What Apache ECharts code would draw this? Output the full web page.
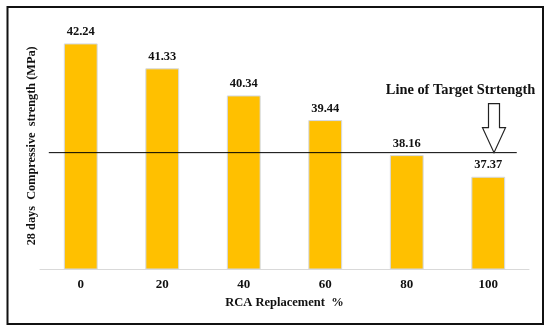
<!DOCTYPE html>
<html>
<head>
<meta charset="utf-8">
<script src="https://cdn.jsdelivr.net/npm/echarts@6/dist/echarts.min.js"></script>
<style>html,body{margin:0;padding:0;background:#fff}#c{width:550px;height:333px}</style>
</head>
<body>
<div id="c"></div>
<script>
const categories = ['0', '20', '40', '60', '80', '100'];
const strength = [42.24, 41.33, 40.34, 39.44, 38.16, 37.37];
const targetStrength = 38.25;
const targetSpan = [0.018, 0.975];
const xAxisTitle = 'RCA Replacement  %';
const yAxisTitle = '28 days  Compressive  strength (MPa)';
const targetText = 'Line of Target Strtength';

const FONT = '"Liberation Serif", "Times New Roman", serif';
const chart = echarts.init(document.getElementById('c'), null, {renderer: 'canvas'});
const option = {
  animation: false,
  backgroundColor: '#fff',
  grid: {left: 40, right: 21, top: 22.6, bottom: 64},
  xAxis: [{
    type: 'category',
    data: categories,
    axisTick: {show: false},
    axisLine: {lineStyle: {color: '#d9d9d9', width: 1}},
    axisLabel: {color: '#111', fontFamily: FONT, fontWeight: 'bold', fontSize: 13, margin: 9},
    name: xAxisTitle,
    nameLocation: 'middle',
    nameGap: 26,
    nameTextStyle: {color: '#111', fontFamily: FONT, fontWeight: 'bold', fontSize: 12.5}
  }, {
    type: 'value', min: 0, max: 1, show: false
  }],
  yAxis: {
    type: 'value', min: 34, max: 43,
    axisLine: {show: false}, axisTick: {show: false}, axisLabel: {show: false}, splitLine: {show: false},
    name: yAxisTitle,
    nameLocation: 'middle',
    nameRotate: 90,
    nameGap: 2,
    nameTextStyle: {color: '#111', fontFamily: FONT, fontWeight: 'bold', fontSize: 12.3}
  },
  series: [{
    type: 'bar',
    data: strength,
    barWidth: '41.5%',
    itemStyle: {color: '#FFC000', borderColor: '#d3d9e6', borderWidth: 1},
    label: {show: true, position: 'top', distance: 5, color: '#111', fontFamily: FONT, fontWeight: 'bold', fontSize: 12.5,
      formatter: p => p.value.toFixed(2)}
  }, {
    type: 'line',
    xAxisIndex: 1,
    data: targetSpan.map(x => [x, targetStrength]),
    symbol: 'none',
    lineStyle: {color: '#000', width: 1},
    z: 5
  }]
};
chart.setOption(option);

const tipY = chart.convertToPixel({yAxisIndex: 0}, targetStrength);
const cx = 494;
chart.setOption({
  graphic: [
    {type: 'rect', shape: {x: 7.5, y: 7, width: 535.5, height: 317}, style: {fill: 'none', stroke: '#111', lineWidth: 2}, z: 100},
    {type: 'polygon', shape: {points: [
      [cx - 5.5, tipY - 49], [cx + 5.5, tipY - 49], [cx + 5.5, tipY - 25], [cx + 11.5, tipY - 25],
      [cx, tipY], [cx - 11.5, tipY - 25], [cx - 5.5, tipY - 25]
    ]}, style: {fill: '#fff', stroke: '#222', lineWidth: 1.2}, z: 50},
    {type: 'text', x: 460.5, y: 90.5, style: {text: targetText, fill: '#111', font: 'bold 14.4px ' + FONT, align: 'center', verticalAlign: 'middle'}, z: 50}
  ]
});
</script>
</body>
</html>
